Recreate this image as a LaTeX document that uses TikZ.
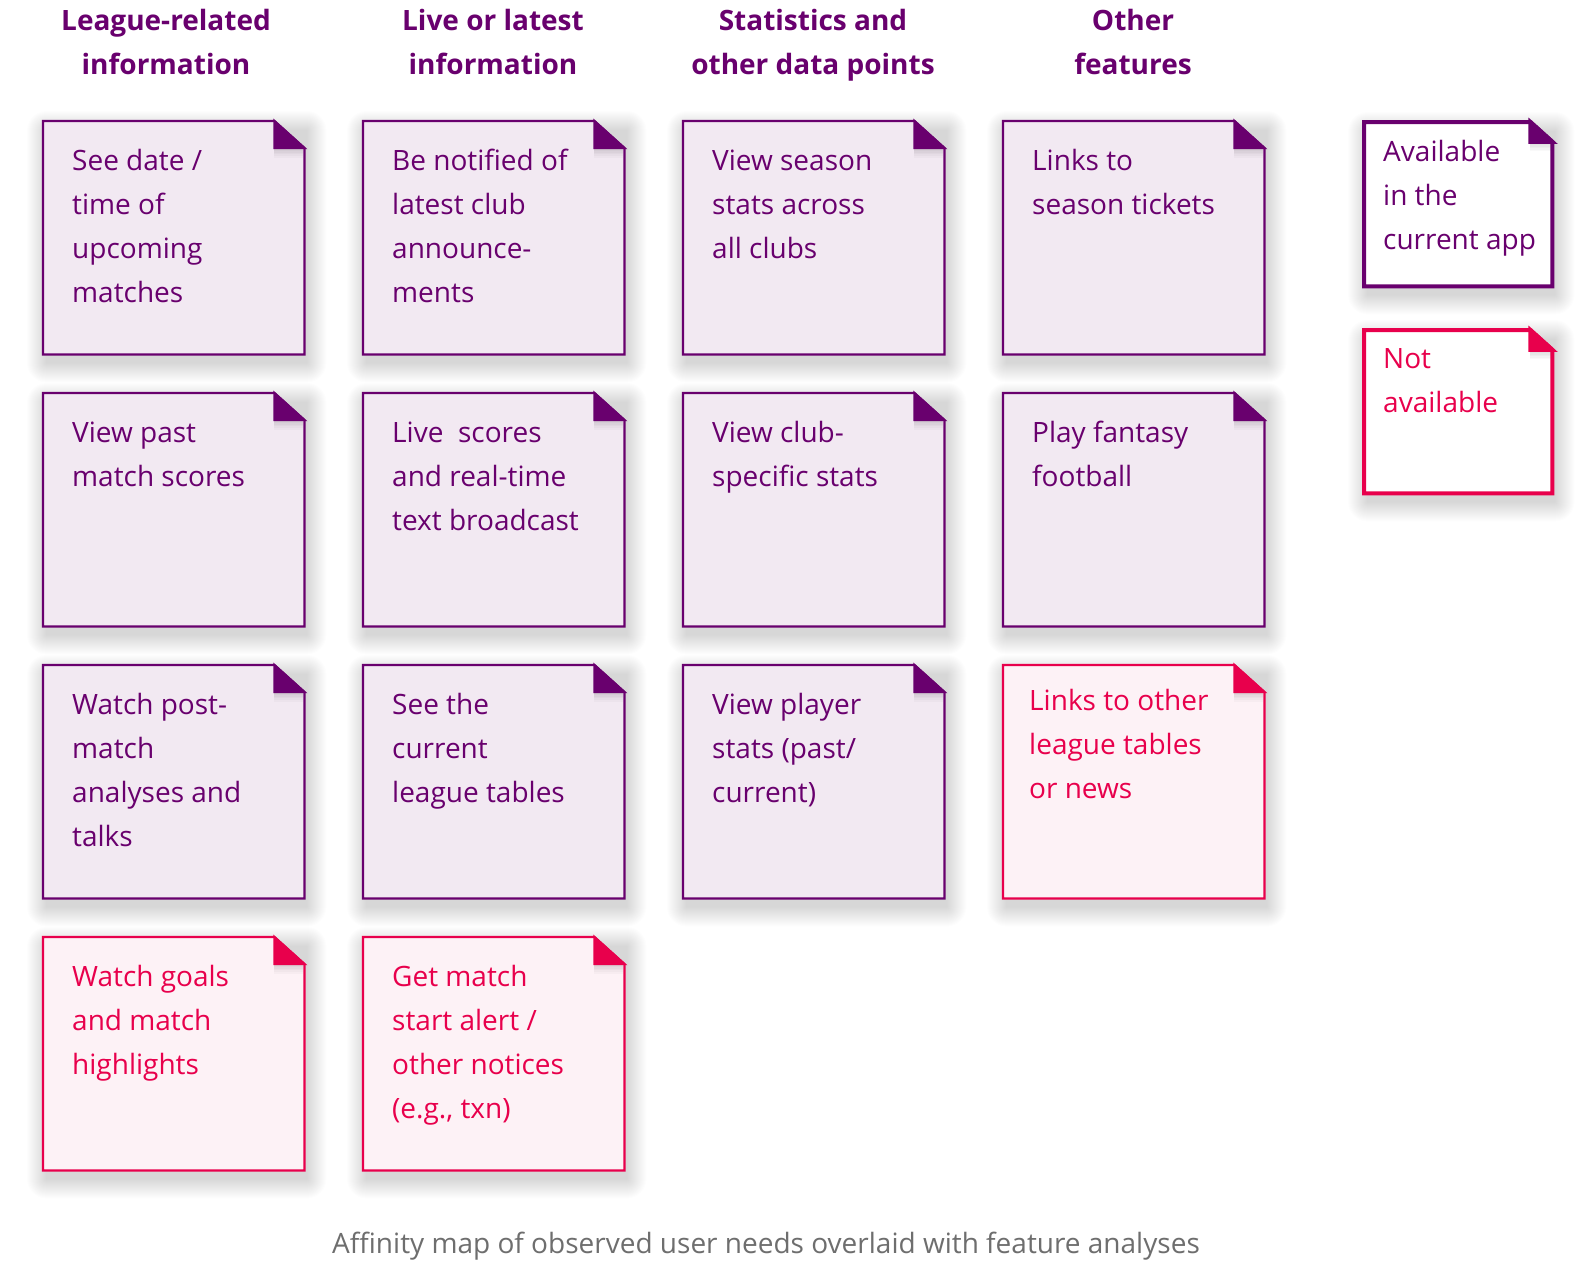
\documentclass[tikz,border=0pt]{standalone}
\usepackage{fontspec}
\setmainfont{Open Sans}
\definecolor{pur}{HTML}{69006E}
\definecolor{purfill}{HTML}{F2E9F2}
\definecolor{rd}{HTML}{E8004C}
\definecolor{rdfill}{HTML}{FDF2F6}
\definecolor{capgray}{HTML}{6E6E6E}
\tikzset{
  cardbody/.style={rectangle, minimum width=#1, inner sep=0pt, anchor=north west},
  bodytext/.style={anchor=north west, inner sep=0pt, align=left, font=\fontsize{28}{44}\selectfont},
  headtext/.style={anchor=north, inner sep=0pt, align=center, text=pur, font=\bfseries\fontsize{28}{44}\selectfont},
  shadowlayer/.style={fill=black, opacity=0.009},
}
% name, x, y, w, h, fold size, line col, fill col, line width
\newcommand\mkcard[9]{%
  \node[cardbody=#4pt, minimum height=#5pt] (#1) at (#2,#3) {};
  \foreach \i in {0,...,19}{%
    \fill[shadowlayer, rounded corners={\i*1pt+0.5pt}]
      ([xshift={(3-\i)*1pt}, yshift={(-9+\i)*1pt}]#1.north west) rectangle
      ([xshift={(3+\i)*1pt}, yshift={(-9-\i)*1pt}]#1.south east);
  }
  \draw[line width=#9, draw=#7, fill=#8, line join=miter]
    (#1.north west) -- ([xshift=-#6pt]#1.north east) -- ([yshift=-#6pt*0.9]#1.north east)
    -- (#1.south east) -- (#1.south west) -- cycle;
  \foreach \j in {1,...,6}{%
    \fill[black, opacity=0.025]
      ([xshift=-#6pt, yshift=-#6pt*0.9]#1.north east) rectangle
      ([xshift=-1pt, yshift={-#6pt*0.9-\j*1.6pt}]#1.north east);
  }
  \filldraw[line width=#9, draw=#7, fill=#7, line join=miter]
    ([xshift=-#6pt]#1.north east) -- ([xshift=-#6pt,yshift=-#6pt*0.9]#1.north east)
    -- ([yshift=-#6pt*0.9]#1.north east) -- cycle;
}
\begin{document}
\begin{tikzpicture}[x=1pt,y=-1pt]
\useasboundingbox[fill=white] (0,0) rectangle (1578,1266);

% headers
\node[headtext] (h1) at (166,-0.3) {\strut League-related\\information};
\node[headtext] (h2) at (493,-0.3) {\strut Live or latest\\information};
\node[headtext] (h3) at (813,-0.3) {\strut Statistics and\\other data points};
\node[headtext] (h4) at (1133,-0.3) {\strut Other\\features};

% column 1
\mkcard{c11}{43}{121}{261}{233}{30}{pur}{purfill}{2.2pt}
\node[bodytext, text=pur] (t11) at ([xshift=29pt,yshift=-18.5pt]c11.north west) {\strut See date /\\time of\\upcoming\\matches};
\mkcard{c12}{43}{393}{261}{233}{30}{pur}{purfill}{2.2pt}
\node[bodytext, text=pur] (t12) at ([xshift=29pt,yshift=-18.5pt]c12.north west) {\strut View past\\match scores};
\mkcard{c13}{43}{665}{261}{233}{30}{pur}{purfill}{2.2pt}
\node[bodytext, text=pur] (t13) at ([xshift=29pt,yshift=-18.5pt]c13.north west) {\strut Watch post-\\match\\analyses and\\talks};
\mkcard{c14}{43}{937}{261}{233}{30}{rd}{rdfill}{2.2pt}
\node[bodytext, text=rd] (t14) at ([xshift=29pt,yshift=-18.5pt]c14.north west) {\strut Watch goals\\and match\\highlights};

% column 2
\mkcard{c21}{363}{121}{261}{233}{30}{pur}{purfill}{2.2pt}
\node[bodytext, text=pur] (t21) at ([xshift=29pt,yshift=-18.5pt]c21.north west) {\strut Be notified of\\latest club\\announce-\\ments};
\mkcard{c22}{363}{393}{261}{233}{30}{pur}{purfill}{2.2pt}
\node[bodytext, text=pur] (t22) at ([xshift=29pt,yshift=-18.5pt]c22.north west) {\strut Live\ \ scores\\and real-time\\text broadcast};
\mkcard{c23}{363}{665}{261}{233}{30}{pur}{purfill}{2.2pt}
\node[bodytext, text=pur] (t23) at ([xshift=29pt,yshift=-18.5pt]c23.north west) {\strut See the\\current\\league tables};
\mkcard{c24}{363}{937}{261}{233}{30}{rd}{rdfill}{2.2pt}
\node[bodytext, text=rd] (t24) at ([xshift=29pt,yshift=-18.5pt]c24.north west) {\strut Get match\\start alert /\\other notices\\(e.g., txn)};

% column 3
\mkcard{c31}{683}{121}{261}{233}{30}{pur}{purfill}{2.2pt}
\node[bodytext, text=pur] (t31) at ([xshift=29pt,yshift=-18.5pt]c31.north west) {\strut View season\\stats across\\all clubs};
\mkcard{c32}{683}{393}{261}{233}{30}{pur}{purfill}{2.2pt}
\node[bodytext, text=pur] (t32) at ([xshift=29pt,yshift=-18.5pt]c32.north west) {\strut View club-\\specific stats};
\mkcard{c33}{683}{665}{261}{233}{30}{pur}{purfill}{2.2pt}
\node[bodytext, text=pur] (t33) at ([xshift=29pt,yshift=-18.5pt]c33.north west) {\strut View player\\stats (past/\\current)};

% column 4
\mkcard{c41}{1003}{121}{261}{233}{30}{pur}{purfill}{2.2pt}
\node[bodytext, text=pur] (t41) at ([xshift=29pt,yshift=-18.5pt]c41.north west) {\strut Links to\\season tickets};
\mkcard{c42}{1003}{393}{261}{233}{30}{pur}{purfill}{2.2pt}
\node[bodytext, text=pur] (t42) at ([xshift=29pt,yshift=-18.5pt]c42.north west) {\strut Play fantasy\\football};
\mkcard{c43}{1003}{665}{261}{233}{30}{rd}{rdfill}{2.2pt}
\node[bodytext, text=rd] (t43) at ([xshift=26pt,yshift=-14.5pt]c43.north west) {\strut Links to other\\league tables\\or news};

% legend
\mkcard{l1}{1364}{122}{188}{164}{22}{pur}{white}{4pt}
\node[bodytext, text=pur] (lt1) at ([xshift=19pt,yshift=-8pt]l1.north west) {\strut Available\\in the\\current app};
\mkcard{l2}{1364}{330}{188}{163}{22}{rd}{white}{4pt}
\node[bodytext, text=rd] (lt2) at ([xshift=19pt,yshift=-7.5pt]l2.north west) {\strut Not\\available};

% caption
\node[anchor=base, inner sep=0pt, text=capgray, font=\fontsize{28}{34}\selectfont] (cap) at (766,1253) {Affinity map of observed user needs overlaid with feature analyses};
\end{tikzpicture}
\end{document}
